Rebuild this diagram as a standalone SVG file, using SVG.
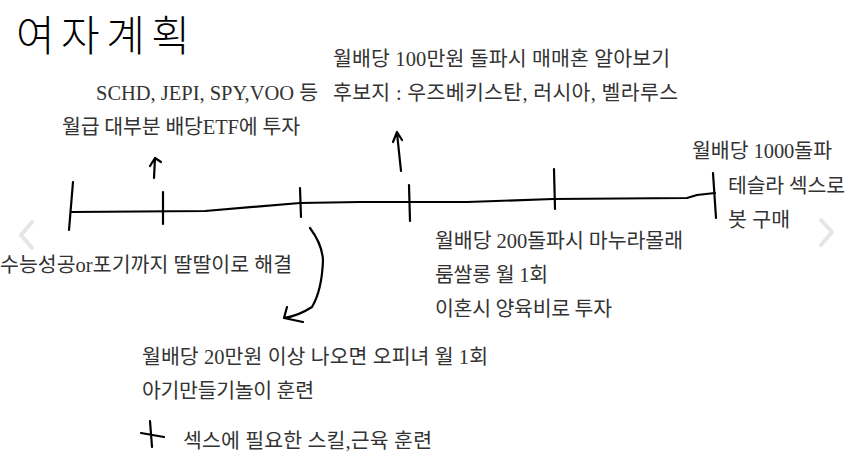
<svg xmlns="http://www.w3.org/2000/svg" width="850" height="465" viewBox="0 0 850 465">
<style>
.t{font-family:"Liberation Serif","Noto Sans CJK KR",serif;font-size:20.5px;fill:#333}
.ink{fill:none;stroke:#000;stroke-width:2.2;stroke-linecap:round;stroke-linejoin:round}
.ghost{fill:none;stroke:#e6e6e6;stroke-width:4;stroke-linecap:round;stroke-linejoin:round}
</style>
<rect width="850" height="465" fill="#fff"/>
<g id="title"><text x="16" y="51" font-family="Noto Sans CJK KR, sans-serif" font-weight="300" font-size="42" textLength="174" fill="#000">여자계획</text></g>
<g id="connectors">
<path class="ink" d="M72,212 L205,211 L300,203 L360,202 L467,202 L553,199 L687,198 L697,195 L715,193"/>
<path class="ink" d="M73,182 L69,230"/>
<path class="ink" d="M163,192 L163,224"/>
<path class="ink" d="M300,188 L301,217"/>
<path class="ink" d="M409,185 L410,221"/>
<path class="ink" d="M554,169 L555,209"/>
<path class="ink" d="M713,173 L716,218"/>
<path class="ink" d="M154,178 L155,158 M150,166 L155,158 L161,162"/>
<path class="ink" d="M401,171 L397,133 M393,142 L397,132 L402,140"/>
<path class="ink" d="M310,228 Q322,244 323,260 Q322,290 312,307 Q298,316 284,318 M287,307 L284,318 L303,322"/>
<path class="ink" d="M150,421 L152,447 M141,433 L164,437"/>
<path class="ghost" d="M32,222 L21,235 L32,248"/>
<path class="ghost" d="M821,220 L832,232 L821,245"/>
</g>
<g id="n-100"><text class="t" x="333" y="66" textLength="337">월배당 100만원 돌파시 매매혼 알아보기</text><text class="t" x="333" y="100" textLength="345">후보지 : 우즈베키스탄, 러시아, 벨라루스</text></g>
<g id="n-etf"><text class="t" x="96" y="100" textLength="222">SCHD, JEPI, SPY,VOO 등</text><text class="t" x="62" y="134" textLength="238">월급 대부분 배당ETF에 투자</text></g>
<g id="n-1000"><text class="t" x="692" y="158" textLength="140">월배당 1000돌파</text><text class="t" x="728" y="193" textLength="117">테슬라 섹스로</text><text class="t" x="728" y="227" textLength="62">봇 구매</text></g>
<g id="n-start"><text class="t" x="0" y="272" textLength="292">수능성공or포기까지 딸딸이로 해결</text></g>
<g id="n-200"><text class="t" x="435" y="248" textLength="248">월배당 200돌파시 마누라몰래</text><text class="t" x="435" y="282" textLength="113">룸쌀롱 월 1회</text><text class="t" x="435" y="316" textLength="177">이혼시 양육비로 투자</text></g>
<g id="n-20"><text class="t" x="142" y="364" textLength="346">월배당 20만원 이상 나오면 오피녀 월 1회</text><text class="t" x="142" y="398" textLength="172">아기만들기놀이 훈련</text><text class="t" x="183" y="448" textLength="249">섹스에 필요한 스킬,근육 훈련</text></g>
</svg>
